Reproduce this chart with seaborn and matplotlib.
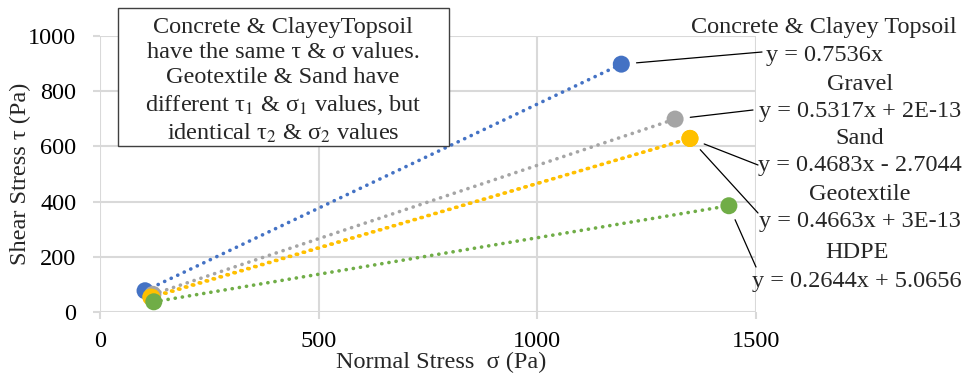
import matplotlib
matplotlib.use("Agg")
import matplotlib.pyplot as plt
import matplotlib.patches as mpatches
import pandas as pd
import seaborn as sns

# two measured points (sigma1, tau1) and (sigma2, tau2) per material
materials = ["Concrete & Clayey Topsoil", "Gravel", "Geotextile", "Sand", "HDPE"]
sigma_1 = [103, 121, 116, 119, 123]
sigma_2 = [1192, 1315, 1349, 1349, 1438]
tau_1 = [77, 64, 54, 53, 37]
tau_2 = [898, 699, 629, 629, 385]
equations = [
    "y = 0.7536x",
    "y = 0.5317x + 2E-13",
    "y = 0.4663x + 3E-13",
    "y = 0.4683x - 2.7044",
    "y = 0.2644x + 5.0656",
]
colors = ["#4472C4", "#A5A5A5", "#FFC000", "#FFC000", "#70AD47"]

note = ("Concrete & ClayeyTopsoil\nhave the same \u03c4 & \u03c3 values.\n"
        "Geotextile & Sand have\ndifferent \u03c4$_1$ & \u03c3$_1$ values, but\n"
        "identical \u03c4$_2$ & \u03c3$_2$ values")

rows = []
for m, s1, s2, t1, t2 in zip(materials, sigma_1, sigma_2, tau_1, tau_2):
    rows.append({"material": m, "sigma": s1, "tau": t1})
    rows.append({"material": m, "sigma": s2, "tau": t2})
df = pd.DataFrame(rows)
palette = dict(zip(materials, colors))

sns.set_theme(style="white")
plt.rcParams["font.family"] = ["Liberation Serif", "DejaVu Serif"]
plt.rcParams["mathtext.fontset"] = "stix"

FS = 17.5
fig = plt.figure(figsize=(9.68, 3.75), dpi=100)
ax = fig.add_axes([100 / 968, 63 / 375, 656 / 968, 276 / 375])

for m in materials:
    sub = df[df.material == m]
    sns.lineplot(data=sub, x="sigma", y="tau", ax=ax, color=palette[m],
                 linewidth=2.6, linestyle=(0, (0.05, 1.95)),
                 dash_capstyle="round", legend=False, zorder=2)
for m in materials:
    sub = df[df.material == m]
    sns.scatterplot(data=sub, x="sigma", y="tau", ax=ax, color=palette[m],
                    s=150, edgecolor="none", legend=False, zorder=3)

ax.set_xlim(0, 1500)
ax.set_ylim(0, 1000)
ax.set_xticks([0, 500, 1000, 1500])
ax.set_yticks(range(0, 1001, 200))
ax.grid(True, color="#D9D9D9", linewidth=1.5)
ax.set_axisbelow(True)
for sp in ax.spines.values():
    sp.set_visible(False)
ax.tick_params(axis="both", length=5, width=1.5, color="#D9D9D9",
               labelsize=FS, labelcolor="black", direction="out", pad=12)
ax.tick_params(axis="x", pad=9)
ax.xaxis.set_ticks_position("bottom")
ax.yaxis.set_ticks_position("left")

ax.set_xlabel("Normal Stress  \u03c3 (Pa)", fontsize=FS)
ax.set_ylabel("Shear Stress \u03c4 (Pa)", fontsize=FS)
ax.xaxis.set_label_coords(0.52, -0.145)
ax.yaxis.set_label_coords(-0.105, 0.5)

# note box
box = mpatches.Rectangle((118 / 968, 1 - 146 / 375), 331 / 968, 138 / 375,
                         transform=fig.transFigure, facecolor="white",
                         edgecolor="#404040", linewidth=1.0, zorder=5)
fig.patches.append(box)
fig.text(283 / 968, 1 - 81 / 375, note, ha="center", va="center",
         fontsize=FS, linespacing=1.27, zorder=6)

# trendline labels: (centre x, name y, equation y, leader end x, leader end y) in pixels
label_pos = [
    (824, 27, 56, 762, 52),
    (860, 84, 111, 753, 110),
    (860, 194, 222, 758, 213),
    (860, 138, 166, 758, 165),
    (857, 253, 281, 756, 267),
]
names = ["Concrete & Clayey Topsoil", "Gravel", "Geotextile", "Sand", "HDPE"]
for name, eq, (cx, ny, ey, lx, ly), s2, t2 in zip(names, equations, label_pos, sigma_2, tau_2):
    fig.text(cx / 968, 1 - ny / 375, name, ha="center", va="center", fontsize=FS)
    fig.text(cx / 968, 1 - ey / 375, eq, ha="center", va="center", fontsize=FS)
    ax.annotate("", xy=(s2, t2), xytext=(lx, 375 - ly), textcoords="figure pixels",
                arrowprops=dict(arrowstyle="-", color="black", linewidth=0.9,
                                shrinkA=0, shrinkB=11))

fig.savefig("out.png", dpi=100)
